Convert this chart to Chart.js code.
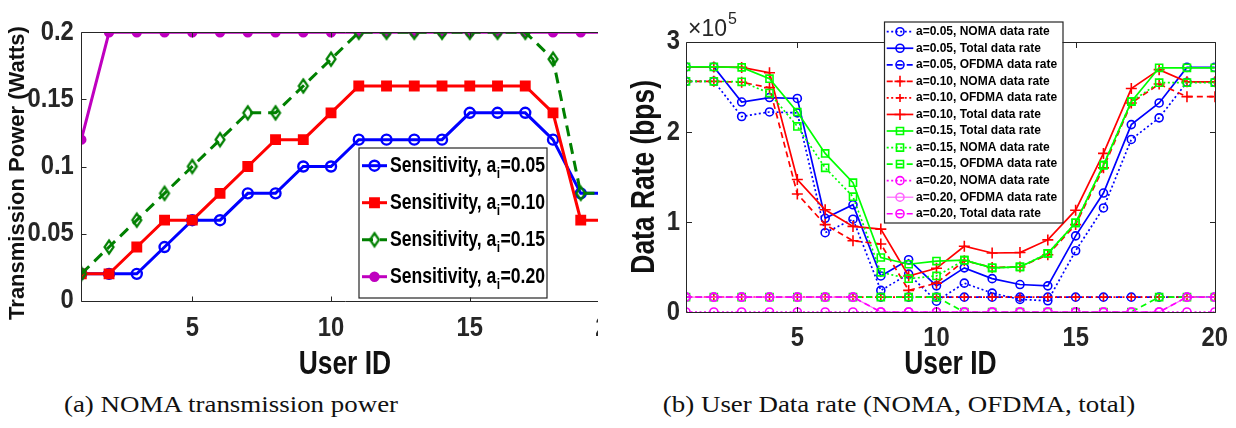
<!DOCTYPE html>
<html>
<head>
<meta charset="utf-8">
<script src="https://cdn.jsdelivr.net/npm/chart.js@4.4.1/dist/chart.umd.min.js"></script>
<style>
  html, body { margin: 0; padding: 0; background: #fff; width: 1236px; height: 428px; overflow: hidden; }
  #left { position: absolute; left: 0; top: 0; width: 598px; height: 390px; overflow: hidden; }
  #right { position: absolute; left: 600px; top: 0; width: 636px; height: 390px; }
  .cap { position: absolute; top: 391px; font-family: 'Liberation Serif', 'DejaVu Serif', serif; font-size: 23px;
         color: #111; white-space: nowrap; line-height: 28px; transform: translateX(-50%) scaleX(1.17); }
</style>
</head>
<body>
<div id="left"><canvas id="powerChart" width="640" height="390"></canvas></div>
<div id="right"><canvas id="rateChart" width="636" height="390"></canvas></div>
<div class="cap" style="left:231px">(a) NOMA transmission power</div>
<div class="cap" style="left:899px">(b) User Data rate (NOMA, OFDMA, total)</div>

<script>
// ---- data -------------------------------------------------------------
const userIds = [1, 2, 3, 4, 5, 6, 7, 8, 9, 10, 11, 12, 13, 14, 15, 16, 17, 18, 19, 20];

// transmission power (W) per user for each sensitivity a_i
const powerA005 = [0.02, 0.02, 0.02, 0.04, 0.06, 0.06, 0.08, 0.08, 0.10, 0.10, 0.12, 0.12, 0.12, 0.12, 0.14, 0.14, 0.14, 0.12, 0.08, 0.08];
const powerA010 = [0.02, 0.02, 0.04, 0.06, 0.06, 0.08, 0.10, 0.12, 0.12, 0.14, 0.16, 0.16, 0.16, 0.16, 0.16, 0.16, 0.16, 0.14, 0.06, 0.06];
const powerA015 = [0.02, 0.04, 0.06, 0.08, 0.10, 0.12, 0.14, 0.14, 0.16, 0.18, 0.20, 0.20, 0.20, 0.20, 0.20, 0.20, 0.20, 0.18, 0.08, 0.08];
const powerA020 = [0.12, 0.20, 0.20, 0.20, 0.20, 0.20, 0.20, 0.20, 0.20, 0.20, 0.20, 0.20, 0.20, 0.20, 0.20, 0.20, 0.20, 0.20, 0.20, 0.20];

// data rates (bps) per user
const rateNomaA005  = [2.56e5, 2.56e5, 2.17e5, 2.22e5, 2.21e5, 0.88e5, 1.03e5, 0.24e5, 0.42e5, 0.12e5, 0.32e5, 0.21e5, 0.14e5, 0.125e5, 0.68e5, 1.155e5, 1.915e5, 2.155e5, 2.55e5, 2.55e5];
const rateTotalA005 = [2.72e5, 2.72e5, 2.33e5, 2.38e5, 2.37e5, 1.04e5, 1.19e5, 0.40e5, 0.58e5, 0.29e5, 0.49e5, 0.37e5, 0.305e5, 0.29e5, 0.845e5, 1.32e5, 2.08e5, 2.32e5, 2.715e5, 2.715e5];
const rateOfdmaA005 = [0.165e5, 0.165e5, 0.165e5, 0.165e5, 0.165e5, 0.165e5, 0.165e5, 0.165e5, 0.165e5, 0.165e5, 0.165e5, 0.165e5, 0.165e5, 0.165e5, 0.165e5, 0.165e5, 0.165e5, 0.165e5, 0.165e5, 0.165e5];
const rateNomaA010  = [2.56e5, 2.56e5, 2.55e5, 2.49e5, 1.31e5, 0.97e5, 0.79e5, 0.755e5, 0.24e5, 0.32e5, 0.57e5, 0.495e5, 0.50e5, 0.635e5, 0.97e5, 1.60e5, 2.32e5, 2.53e5, 2.39e5, 2.39e5];
const rateOfdmaA010 = [0.165e5, 0.165e5, 0.165e5, 0.165e5, 0.165e5, 0.165e5, 0.165e5, 0.165e5, 0.165e5, 0.165e5, 0.165e5, 0.165e5, 0.165e5, 0.165e5, 0.165e5, 0.165e5, 0.165e5, 0.165e5, 0.165e5, 0.165e5];
const rateTotalA010 = [2.72e5, 2.72e5, 2.715e5, 2.655e5, 1.47e5, 1.135e5, 0.95e5, 0.92e5, 0.40e5, 0.485e5, 0.73e5, 0.655e5, 0.66e5, 0.80e5, 1.13e5, 1.76e5, 2.48e5, 2.69e5, 2.555e5, 2.555e5];
const rateTotalA015 = [2.72e5, 2.72e5, 2.715e5, 2.59e5, 2.22e5, 1.76e5, 1.435e5, 0.605e5, 0.53e5, 0.565e5, 0.575e5, 0.49e5, 0.50e5, 0.65e5, 0.99e5, 1.63e5, 2.335e5, 2.71e5, 2.71e5, 2.71e5];
const rateNomaA015  = [2.56e5, 2.56e5, 2.555e5, 2.43e5, 2.06e5, 1.60e5, 1.28e5, 0.44e5, 0.37e5, 0.40e5, 0.575e5, 0.49e5, 0.50e5, 0.65e5, 0.99e5, 1.63e5, 2.335e5, 2.545e5, 2.545e5, 2.545e5];
const rateOfdmaA015 = [0.165e5, 0.165e5, 0.165e5, 0.165e5, 0.165e5, 0.165e5, 0.165e5, 0.165e5, 0.165e5, 0.165e5, 0, 0, 0, 0, 0, 0, 0, 0.165e5, 0.165e5, 0.165e5];
const rateNomaA020  = [0, 0, 0, 0, 0, 0, 0, 0, 0, 0, 0, 0, 0, 0, 0, 0, 0, 0, 0, 0];
const rateOfdmaA020 = [0.165e5, 0.165e5, 0.165e5, 0.165e5, 0.165e5, 0.165e5, 0.165e5, 0, 0, 0, 0, 0, 0, 0, 0, 0, 0, 0, 0.165e5, 0.165e5];
const rateTotalA020 = [0.165e5, 0.165e5, 0.165e5, 0.165e5, 0.165e5, 0.165e5, 0.165e5, 0, 0, 0, 0, 0, 0, 0, 0, 0, 0, 0, 0.165e5, 0.165e5];

// axis ticks
const userTickValues  = [5, 10, 15, 20];
const powerTickValues = [0, 0.05, 0.1, 0.15, 0.2];
const powerTickLabels = ['0', '0.05', '0.1', '0.15', '0.2'];
const rateTickValues  = [0, 1e5, 2e5, 3e5];
const rateTickLabels  = ['0', '1', '2', '3'];

// ---- styling helpers ---------------------------------------------------
const SANS = "'Liberation Sans', Arial, sans-serif";
const AXIS_INK = '#262626';
// condensed bold lettering: Liberation Sans Bold squeezed horizontally
const TICK_FONT = 'bold 28px ' + SANS, TICK_SX = 0.85;
const LABEL_FONT = 'bold 33px ' + SANS, LABEL_SX = 0.8;

const points = arr => userIds.map((u, i) => ({ x: u, y: arr[i] }));

function fillTextScaled(ctx, text, x, y, opt) {
  ctx.save();
  ctx.translate(x, y);
  if (opt.rotate) ctx.rotate(opt.rotate);
  ctx.scale(opt.sx || 1, 1);
  ctx.font = opt.font;
  ctx.fillStyle = opt.color || '#000';
  ctx.textAlign = opt.align || 'center';
  ctx.textBaseline = opt.baseline || 'middle';
  ctx.fillText(text, 0, 0);
  ctx.restore();
}

function diamondMarker(color, w, h, lw) {
  const c = document.createElement('canvas');
  c.width = Math.ceil(w + lw * 2); c.height = Math.ceil(h + lw * 2);
  const g = c.getContext('2d');
  const cx = c.width / 2, cy = c.height / 2;
  g.strokeStyle = color; g.lineWidth = lw;
  g.beginPath();
  g.moveTo(cx, cy - h / 2); g.lineTo(cx + w / 2, cy); g.lineTo(cx, cy + h / 2); g.lineTo(cx - w / 2, cy);
  g.closePath(); g.stroke();
  return c;
}

function drawMarker(ctx, ds, x, y) {
  const style = ds.pointStyle, r = ds.pointRadius;
  ctx.save();
  ctx.setLineDash([]);
  ctx.strokeStyle = ds.pointBorderColor || ds.borderColor;
  ctx.fillStyle = ds.pointBackgroundColor || 'rgba(0,0,0,0)';
  ctx.lineWidth = ds.pointBorderWidth;
  if (style instanceof HTMLCanvasElement) {
    ctx.drawImage(style, x - style.width / 2, y - style.height / 2);
  } else if (style === 'circle') {
    ctx.beginPath(); ctx.arc(x, y, r, 0, Math.PI * 2); ctx.fill(); ctx.stroke();
  } else if (style === 'rect') {
    const s = r * Math.SQRT1_2;
    ctx.beginPath(); ctx.rect(x - s, y - s, 2 * s, 2 * s); ctx.fill(); ctx.stroke();
  } else if (style === 'cross') {
    ctx.beginPath(); ctx.moveTo(x - r, y); ctx.lineTo(x + r, y); ctx.moveTo(x, y - r); ctx.lineTo(x, y + r); ctx.stroke();
  }
  ctx.restore();
}

// axes box with inward ticks on all four sides
const framePlugin = {
  id: 'frame',
  afterDatasetsDraw(chart, args, opts) {
    const { ctx, chartArea: a } = chart;
    const xs = chart.scales.x, ys = chart.scales.y;
    const L = Math.round(a.left) + 0.5, R = Math.round(a.right) + 0.5;
    const T = Math.round(a.top) + 0.5, B = Math.round(a.bottom) + 0.5;
    const tl = opts.tickLength;
    ctx.save();
    ctx.strokeStyle = AXIS_INK; ctx.lineWidth = 1;
    ctx.beginPath(); ctx.rect(L, T, R - L, B - T); ctx.stroke();
    ctx.beginPath();
    xs.ticks.forEach(t => {
      const p = Math.round(xs.getPixelForValue(t.value)) + 0.5;
      ctx.moveTo(p, B); ctx.lineTo(p, B - tl); ctx.moveTo(p, T); ctx.lineTo(p, T + tl);
    });
    ys.ticks.forEach(t => {
      const p = Math.round(ys.getPixelForValue(t.value)) + 0.5;
      ctx.moveTo(L, p); ctx.lineTo(L + tl, p); ctx.moveTo(R, p); ctx.lineTo(R - tl, p);
    });
    ctx.stroke();
    ctx.restore();
  }
};

// tick labels and axis titles in condensed bold lettering
const axisTextPlugin = {
  id: 'axisText',
  afterDraw(chart, args, o) {
    const { ctx, chartArea: a } = chart;
    const xs = chart.scales.x, ys = chart.scales.y;
    const tick = { font: TICK_FONT, sx: TICK_SX, color: AXIS_INK };
    xs.ticks.forEach(t => fillTextScaled(ctx, t.label, xs.getPixelForValue(t.value), a.bottom + o.xLabelOffset, tick));
    ys.ticks.forEach(t => fillTextScaled(ctx, t.label, a.left - o.yLabelPad, ys.getPixelForValue(t.value),
                                         Object.assign({ align: 'right' }, tick)));
    fillTextScaled(ctx, xs.options.title.text, (a.left + a.right) / 2, o.xTitleY,
                   { font: LABEL_FONT, sx: LABEL_SX, color: '#111' });
    fillTextScaled(ctx, ys.options.title.text, o.yTitleX, o.yTitleY == null ? (a.top + a.bottom) / 2 : o.yTitleY,
                   { font: o.yTitleFont, sx: o.yTitleSx, color: '#111', rotate: -Math.PI / 2 });
  }
};

// boxed legend, supports a_{i} style subscripts
const boxLegendPlugin = {
  id: 'boxLegend',
  afterDraw(chart, args, o) {
    const ctx = chart.ctx;
    ctx.save();
    ctx.fillStyle = '#fff';
    ctx.fillRect(o.left, o.top, o.width, o.height);
    ctx.strokeStyle = AXIS_INK; ctx.lineWidth = o.borderWidth;
    ctx.strokeRect(o.left + 0.5, o.top + 0.5, o.width, o.height);
    chart.data.datasets.forEach((ds, i) => {
      const y = o.firstRow + i * o.rowStep;
      ctx.save();
      ctx.strokeStyle = ds.borderColor; ctx.lineWidth = ds.borderWidth;
      ctx.setLineDash(ds.borderDash || []);
      ctx.beginPath(); ctx.moveTo(o.sampleFrom, y); ctx.lineTo(o.sampleTo, y); ctx.stroke();
      ctx.restore();
      drawMarker(ctx, ds, (o.sampleFrom + o.sampleTo) / 2, y);
      const m = /^(.*)_\{(.*?)\}(.*)$/.exec(ds.label);
      ctx.save();
      ctx.translate(o.textX, y);
      ctx.scale(o.sx, 1);
      ctx.fillStyle = '#000';
      ctx.textBaseline = 'middle'; ctx.textAlign = 'left';
      ctx.font = o.font;
      if (m) {
        let x = 0;
        ctx.fillText(m[1], x, 0); x += ctx.measureText(m[1]).width;
        ctx.font = o.subFont;
        ctx.fillText(m[2], x + 0.5, o.subShift); x += ctx.measureText(m[2]).width + 1;
        ctx.font = o.font;
        ctx.fillText(m[3], x, 0);
      } else {
        ctx.fillText(ds.label, 0, 0);
      }
      ctx.restore();
    });
    ctx.restore();
  }
};

// "x10^5" multiplier above the rate axis
const exponentPlugin = {
  id: 'exponent',
  afterDraw(chart, args, o) {
    if (!o.text) return;
    const ctx = chart.ctx;
    ctx.save();
    ctx.fillStyle = AXIS_INK; ctx.textBaseline = 'alphabetic'; ctx.textAlign = 'left';
    ctx.font = '23px ' + SANS;
    ctx.fillText(o.text, o.x, o.y);
    const w = ctx.measureText(o.text).width;
    ctx.font = '16px ' + SANS;
    ctx.fillText(o.power, o.x + w + 1, o.y - 12);
    ctx.restore();
  }
};

function xAxis(height) {
  return {
    type: 'linear', min: 1, max: 20,
    afterBuildTicks: s => { s.ticks = userTickValues.map(v => ({ value: v })); },
    afterFit: s => { s.height = height; },
    grid: { display: false, drawTicks: false }, border: { display: false },
    ticks: { display: false, autoSkip: false, callback: v => String(v) },
    title: { display: false, text: 'User ID' }
  };
}

function yAxis(width, values, labels, max, title) {
  return {
    type: 'linear', min: 0, max: max,
    afterBuildTicks: s => { s.ticks = values.map(v => ({ value: v })); },
    afterFit: s => { s.width = width; },
    grid: { display: false, drawTicks: false }, border: { display: false },
    ticks: { display: false, autoSkip: false, callback: v => labels[values.indexOf(v)] },
    title: { display: false, text: title }
  };
}

const common = {
  responsive: false, animation: false, devicePixelRatio: 1,
  events: [],
  plugins: { legend: { display: false }, tooltip: { enabled: false } }
};

// ---- (a) transmission power -----------------------------------------------
const greenDiamond = diamondMarker('#008000', 9, 13, 2.2);
const powerSeries = [
  { label: 'Sensitivity, a_{i}=0.05', data: powerA005, color: '#0000ff', style: 'circle', r: 5, fill: 'rgba(0,0,0,0)', dash: [], order: 2 },
  { label: 'Sensitivity, a_{i}=0.10', data: powerA010, color: '#ff0000', style: 'rect', r: 6, fill: '#ff0000', dash: [], order: 1 },
  { label: 'Sensitivity, a_{i}=0.15', data: powerA015, color: '#008000', style: greenDiamond, r: 6, fill: 'rgba(0,0,0,0)', dash: [11, 7], order: 0 },
  { label: 'Sensitivity, a_{i}=0.20', data: powerA020, color: '#bf00bf', style: 'circle', r: 4, fill: '#bf00bf', dash: [], order: 3 }
];

new Chart(document.getElementById('powerChart'), {
  type: 'line',
  data: {
    datasets: powerSeries.map(s => ({
      label: s.label, data: points(s.data), order: s.order,
      borderColor: s.color, borderWidth: 3, borderDash: s.dash, tension: 0,
      pointStyle: s.style, pointRadius: s.r, pointBorderWidth: 2.4,
      pointBorderColor: s.color, pointBackgroundColor: s.fill
    }))
  },
  options: {
    ...common,
    layout: { autoPadding: false, padding: { left: 0, right: 31.5, top: 32.3, bottom: 0 } },
    scales: {
      x: xAxis(89.3),
      y: yAxis(81.3, powerTickValues, powerTickLabels, 0.2, 'Transmission Power (Watts)')
    },
    plugins: {
      ...common.plugins,
      frame: { tickLength: 5 },
      axisText: { xLabelOffset: 28, yLabelPad: 7.5, xTitleY: 365, yTitleX: 18, yTitleY: 173,
                  yTitleFont: 'bold 22px ' + SANS, yTitleSx: 1 },
      boxLegend: { left: 358.5, top: 147.5, width: 188, height: 150, borderWidth: 1.2,
                   firstRow: 165.7, rowStep: 37.0, sampleFrom: 362, sampleTo: 387, textX: 390, sx: 0.8,
                   font: 'bold 22px ' + SANS, subFont: 'bold 15px ' + SANS, subShift: 8 },
      exponent: {}
    }
  },
  plugins: [framePlugin, axisTextPlugin, boxLegendPlugin, exponentPlugin]
});

// ---- (b) data rates ---------------------------------------------------------
const DOT = [2, 2.5];
const DASH = [6, 4];
const rateSeries = [
  { label: 'a=0.05, NOMA data rate',  data: rateNomaA005,  color: '#0000ff', dash: DOT,  style: 'circle', r: 4 },
  { label: 'a=0.05, Total data rate', data: rateTotalA005, color: '#0000ff', dash: [],   style: 'circle', r: 4 },
  { label: 'a=0.05, OFDMA data rate', data: rateOfdmaA005, color: '#0000ff', dash: DASH, style: 'circle', r: 4 },
  { label: 'a=0.10, NOMA data rate',  data: rateNomaA010,  color: '#ff0000', dash: DASH, style: 'cross',  r: 5.5 },
  { label: 'a=0.10, OFDMA data rate', data: rateOfdmaA010, color: '#ff0000', dash: DOT,  style: 'cross',  r: 4 },
  { label: 'a=0.10, Total data rate', data: rateTotalA010, color: '#ff0000', dash: [],   style: 'cross',  r: 5.5 },
  { label: 'a=0.15, Total data rate', data: rateTotalA015, color: '#00ff00', dash: [],   style: 'rect',   r: 5 },
  { label: 'a=0.15, NOMA data rate',  data: rateNomaA015,  color: '#00ff00', dash: DOT,  style: 'rect',   r: 5 },
  { label: 'a=0.15, OFDMA data rate', data: rateOfdmaA015, color: '#00ff00', dash: DASH, style: 'rect',   r: 5 },
  { label: 'a=0.20, NOMA data rate',  data: rateNomaA020,  color: '#ff00ff', dash: DOT,  style: 'circle', r: 4 },
  { label: 'a=0.20, OFDMA data rate', data: rateOfdmaA020, color: '#ff66ff', dash: [],   style: 'circle', r: 4, width: 1.2 },
  { label: 'a=0.20, Total data rate', data: rateTotalA020, color: '#ff00ff', dash: DASH, style: 'circle', r: 4 }
];

new Chart(document.getElementById('rateChart'), {
  type: 'line',
  data: {
    datasets: rateSeries.map((s, i) => ({
      label: s.label, data: points(s.data), order: rateSeries.length - i,
      borderColor: s.color, borderWidth: s.width || 1.7, borderDash: s.dash, tension: 0,
      pointStyle: s.style, pointRadius: s.r, pointBorderWidth: 1.6,
      pointBorderColor: s.color, pointBackgroundColor: 'rgba(0,0,0,0)'
    }))
  },
  options: {
    ...common,
    layout: { autoPadding: false, padding: { left: 0, right: 21.2, top: 41.7, bottom: 0 } },
    scales: {
      x: xAxis(78),
      y: yAxis(86, rateTickValues, rateTickLabels, 3e5, 'Data Rate (bps)')
    },
    plugins: {
      ...common.plugins,
      frame: { tickLength: 5.5 },
      axisText: { xLabelOffset: 26, yLabelPad: 6, xTitleY: 365, yTitleX: 45,
                  yTitleFont: LABEL_FONT, yTitleSx: LABEL_SX },
      boxLegend: { left: 284, top: 21.5, width: 178.5, height: 201, borderWidth: 1.2,
                   firstRow: 31.7, rowStep: 16.55, sampleFrom: 286.7, sampleTo: 313.3, textX: 316, sx: 1,
                   font: 'bold 12px ' + SANS, subFont: 'bold 9px ' + SANS, subShift: 4 },
      exponent: { text: '\u00d710', power: '5', x: 88, y: 36 }
    }
  },
  plugins: [framePlugin, axisTextPlugin, boxLegendPlugin, exponentPlugin]
});
</script>
</body>
</html>
